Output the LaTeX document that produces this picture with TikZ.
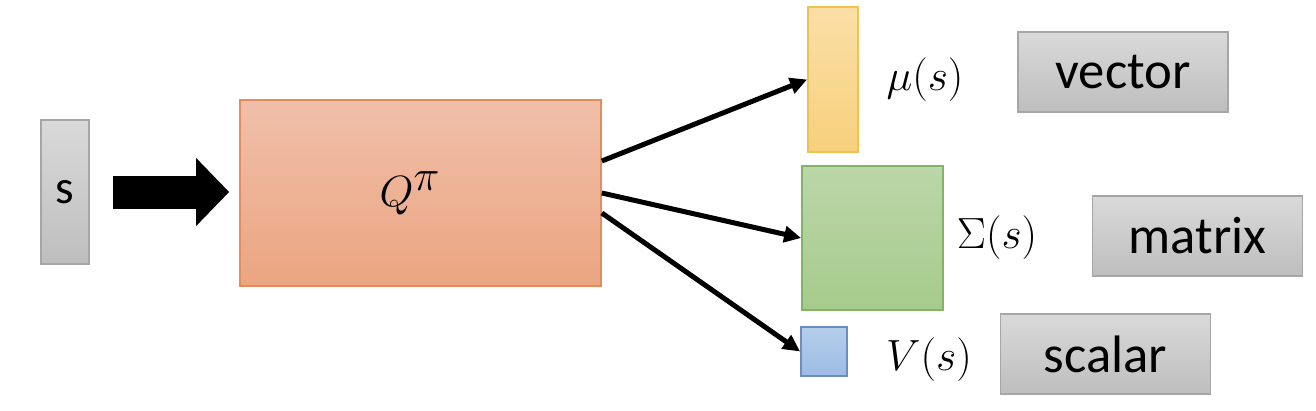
\documentclass[tikz,border=0pt]{standalone}
\usepackage{fontspec}
\setsansfont{Carlito}
\usetikzlibrary{arrows.meta}

\definecolor{grayTop}{HTML}{D9D9D9}
\definecolor{grayBot}{HTML}{BEBEBE}
\definecolor{grayEdge}{HTML}{A6A6A6}
\definecolor{qTop}{HTML}{F0BFA9}
\definecolor{qBot}{HTML}{EBA581}
\definecolor{qEdge}{HTML}{E38D5C}
\definecolor{muTop}{HTML}{FADFA6}
\definecolor{muBot}{HTML}{F7D07C}
\definecolor{muEdge}{HTML}{F2C14E}
\definecolor{sigTop}{HTML}{BBD6A8}
\definecolor{sigBot}{HTML}{A6CB8C}
\definecolor{sigEdge}{HTML}{82B366}
\definecolor{vTop}{HTML}{B6CDEB}
\definecolor{vBot}{HTML}{9DBCE4}
\definecolor{vEdge}{HTML}{6C8EBF}

\begin{document}
\begin{tikzpicture}[x=0.02cm,y=-0.02cm,
  graybox/.style={draw=grayEdge,line width=1pt,top color=grayTop,bottom color=grayBot,inner sep=0pt,
    minimum width=4.2cm,minimum height=1.6cm,font=\sffamily\fontsize{30}{34}\selectfont},
  outbox/.style={line width=1pt,inner sep=0pt},
  mathlabel/.style={font=\fontsize{31}{36}\selectfont},
  branch/.style={-{Triangle[length=0.34cm,width=0.32cm]},line width=0.1cm}]
\useasboundingbox (0,0) rectangle (1316,410);

% Input state
\node[graybox,minimum width=0.96cm,minimum height=2.88cm,font=\sffamily\fontsize{27}{30}\selectfont] (s) at (65,192) {s};

% Network
\node[outbox,draw=qEdge,top color=qTop,bottom color=qBot,minimum width=7.22cm,minimum height=3.72cm] (Q) at (420.5,193) {};
\node[font=\fontsize{34}{38}\selectfont] (qLabel) at (410,193) {$Q^{\pi}$};

% Big arrow into the network
\draw[-{Triangle[length=0.66cm,width=1.32cm]},line width=0.66cm,shorten <=0.46cm,shorten >=0.2cm] (s.east) -- (s.east -| Q.west);

% Outputs
\node[outbox,draw=muEdge,top color=muTop,bottom color=muBot,minimum width=1.0cm,minimum height=2.9cm] (mu) at (833,79.5) {};
\node[outbox,draw=sigEdge,top color=sigTop,bottom color=sigBot,minimum width=2.82cm,minimum height=2.88cm] (sigma) at (872.5,238) {};
\node[outbox,draw=vEdge,top color=vTop,bottom color=vBot,minimum width=0.92cm,minimum height=0.98cm] (V) at (824,351.5) {};

% Output names
\node[mathlabel] (muLabel) at (925,80) {$\mu(s)$};
\node[mathlabel] (sigmaLabel) at (997,238) {$\Sigma(s)$};
\node[mathlabel] (vLabel) at (929,360) {$V(s)$};

% Output kinds
\node[graybox] (vector) at (1123,72) {vector};
\node[graybox] (matrix) at (1197.5,236) {matrix};
\node[graybox] (scalar) at (1105.5,354) {scalar};

% Arrows to outputs
\draw[branch] ([yshift=0.64cm]Q.east) -- (mu.west);
\draw[branch] (Q.east) -- (sigma.west);
\draw[branch] ([yshift=-0.4cm]Q.east) -- (V.west);
\end{tikzpicture}
\end{document}
